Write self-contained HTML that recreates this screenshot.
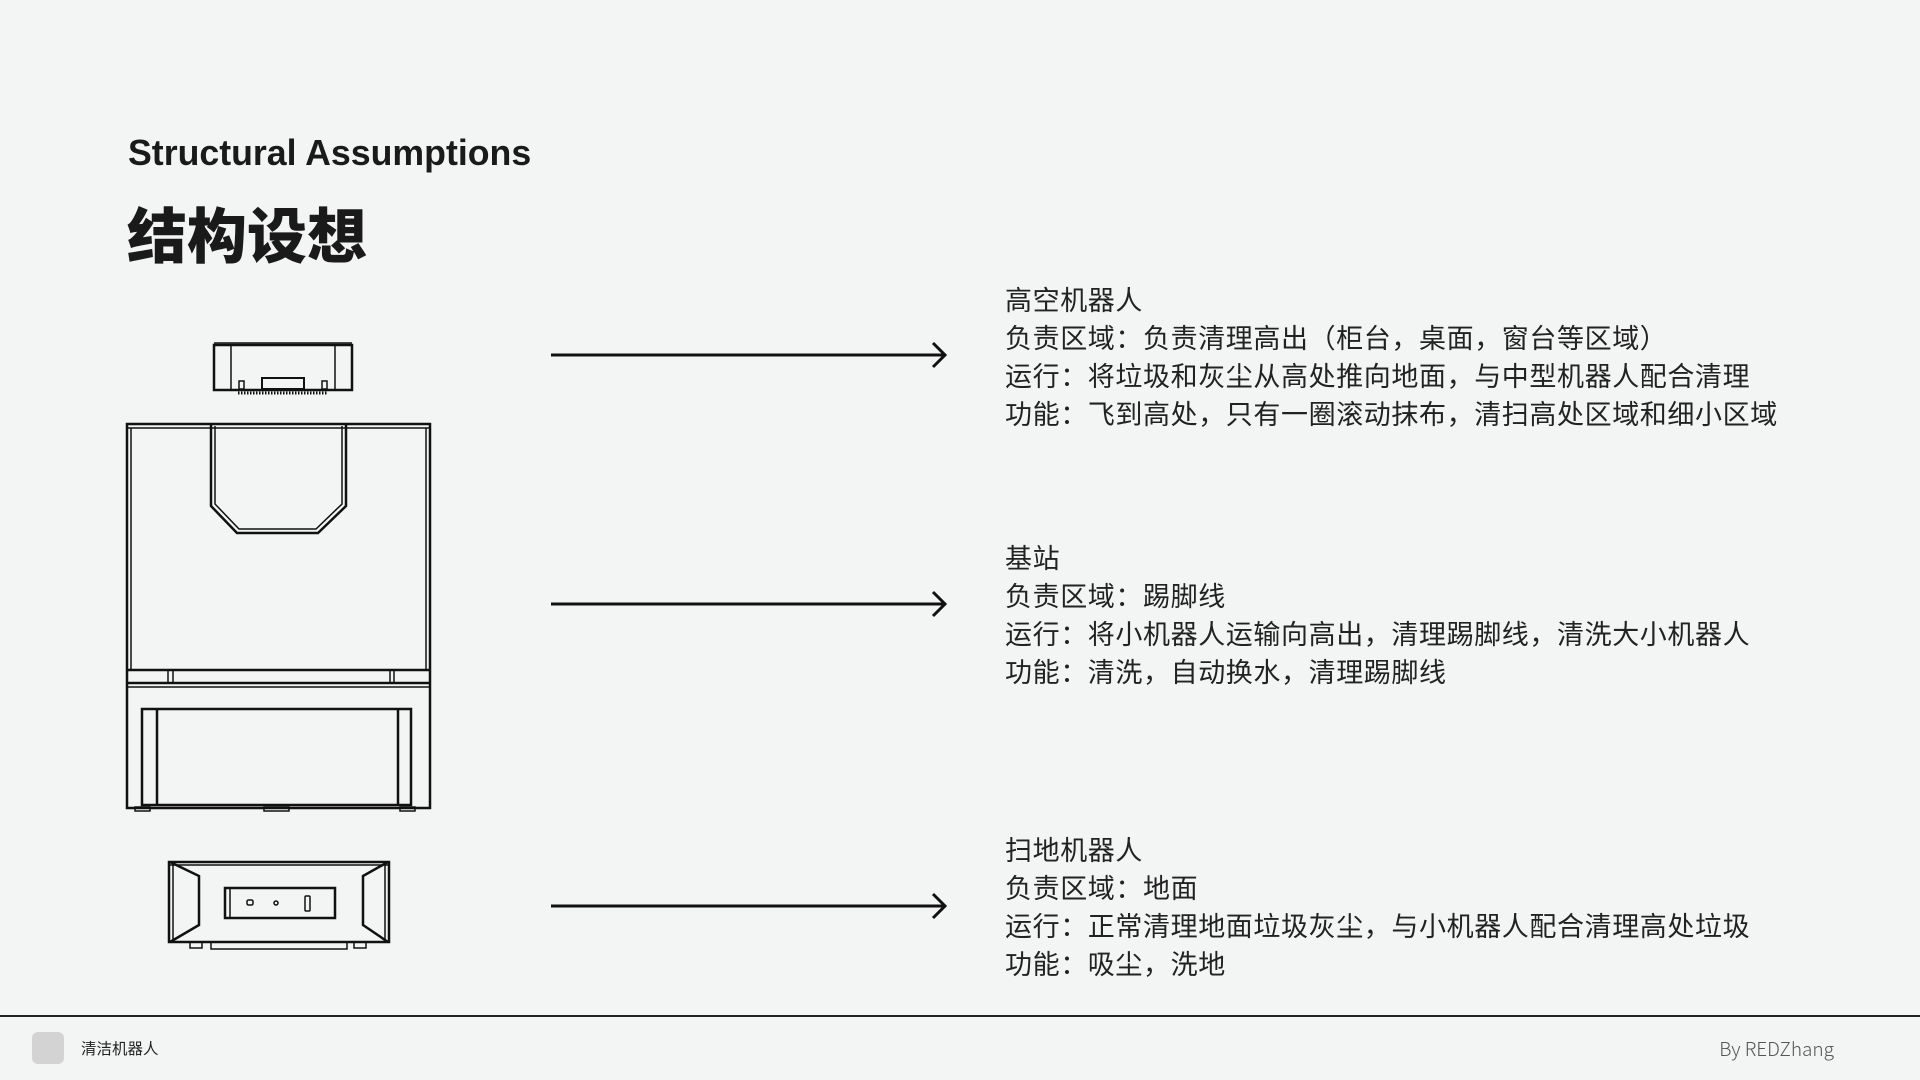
<!DOCTYPE html>
<html><head><meta charset="utf-8"><style>
html,body{margin:0;padding:0;}
body{width:1920px;height:1080px;background:#f3f5f4;position:relative;overflow:hidden;font-family:"Liberation Sans","Noto Sans CJK SC",sans-serif;color:#1a1a1a;}
.t1{position:absolute;left:128px;top:133px;font-size:35.7px;font-weight:bold;letter-spacing:0;line-height:40px;}
.t2{position:absolute;left:127px;top:198px;font-size:60px;font-weight:900;line-height:70px;font-family:"Noto Sans CJK SC",sans-serif;}
.blk{position:absolute;left:1005px;font-size:27px;line-height:38px;letter-spacing:0.6px;color:#222;font-family:"Noto Sans CJK SC",sans-serif;white-space:nowrap;}
.ft{position:absolute;font-family:"Noto Sans CJK SC",sans-serif;}
</style></head><body>
<div class="t1">Structural Assumptions</div>
<div class="t2">结构设想</div>

<svg width="1920" height="1080" style="position:absolute;left:0;top:0" fill="none" stroke="#111" stroke-width="2.5">
<rect x="214" y="345" width="138" height="45"/>
<line x1="214" y1="343" x2="352" y2="343" stroke-width="1.5"/>
<line x1="231" y1="345" x2="231" y2="390" stroke-width="1.5"/>
<line x1="335" y1="345" x2="335" y2="390" stroke-width="1.5"/>
<rect x="262" y="378" width="42" height="11" stroke-width="2"/>
<rect x="239" y="381" width="5" height="8" stroke-width="1.5"/>
<rect x="322" y="381" width="5" height="8" stroke-width="1.5"/>
<line x1="238" y1="393" x2="328" y2="393" stroke-width="3" stroke-dasharray="1.5 1.5"/>
<rect x="127" y="424" width="303" height="384"/>
<line x1="131" y1="428" x2="131" y2="670" stroke-width="1.5"/>
<line x1="426" y1="428" x2="426" y2="670" stroke-width="1.5"/>
<line x1="127" y1="428" x2="430" y2="428" stroke-width="1.5"/>
<path d="M211 425 V506 L237 533 H318 L346 506 V425"/>
<path d="M215 426 V504 L239 529 H316 L342 504 V426" stroke-width="1.5"/>
<line x1="127" y1="670" x2="430" y2="670"/>
<line x1="127" y1="683" x2="430" y2="683"/>
<line x1="127" y1="687" x2="430" y2="687" stroke-width="1.5"/>
<rect x="168" y="670" width="5" height="13" stroke-width="1.5"/>
<rect x="390" y="670" width="4" height="13" stroke-width="1.5"/>
<rect x="142" y="709" width="269" height="96"/>
<line x1="157" y1="709" x2="157" y2="805"/>
<line x1="398" y1="709" x2="398" y2="805"/>
<rect x="135" y="807" width="15" height="4" stroke-width="1.5"/>
<rect x="264" y="807" width="25" height="4" stroke-width="1.5"/>
<rect x="400" y="807" width="15" height="4" stroke-width="1.5"/>
<rect x="169" y="862" width="220" height="80"/>
<line x1="169" y1="865" x2="389" y2="865" stroke-width="1.5"/>
<path d="M170 862 L199 876 V925 L170 942"/>
<path d="M388 862 L363 876 V925 L388 942"/>
<line x1="173" y1="863" x2="173" y2="941" stroke-width="1.5"/>
<line x1="385" y1="863" x2="385" y2="941" stroke-width="1.5"/>
<rect x="225" y="888" width="110" height="30"/>
<line x1="230" y1="888" x2="230" y2="918" stroke-width="1.5"/>
<rect x="247" y="900" width="6" height="5" rx="1.5" stroke-width="1.5"/>
<circle cx="276" cy="903" r="2" stroke-width="1.5"/>
<rect x="305" y="896" width="5" height="15" rx="1" stroke-width="1.5"/>
<rect x="211" y="942" width="136" height="7" stroke-width="1.5"/>
<rect x="190" y="942" width="12" height="6" stroke-width="1.5"/>
<rect x="354" y="942" width="12" height="6" stroke-width="1.5"/>
<g stroke-width="3">
<line x1="551" y1="355" x2="945" y2="355"/><path d="M933 343 L945 355 L933 367"/>
<line x1="551" y1="604" x2="945" y2="604"/><path d="M933 592 L945 604 L933 616"/>
<line x1="551" y1="906" x2="945" y2="906"/><path d="M933 894 L945 906 L933 918"/>
</g>
<line x1="0" y1="1016" x2="1920" y2="1016" stroke="#222" stroke-width="2"/>
</svg>

<div class="blk" style="top:280px">高空机器人<br>负责区域：负责清理高出（柜台，桌面，窗台等区域）<br>运行：将垃圾和灰尘从高处推向地面，与中型机器人配合清理<br>功能：飞到高处，只有一圈滚动抹布，清扫高处区域和细小区域</div>
<div class="blk" style="top:538px">基站<br>负责区域：踢脚线<br>运行：将小机器人运输向高出，清理踢脚线，清洗大小机器人<br>功能：清洗，自动换水，清理踢脚线</div>
<div class="blk" style="top:830px">扫地机器人<br>负责区域：地面<br>运行：正常清理地面垃圾灰尘，与小机器人配合清理高处垃圾<br>功能：吸尘，洗地</div>

<div style="position:absolute;left:32px;top:1032px;width:32px;height:32px;border-radius:6px;background:#d3d3d3"></div>
<div class="ft" style="left:81px;top:1037px;font-size:15.5px;line-height:22px;color:#222">清洁机器人</div>
<div class="ft" style="right:86px;top:1037px;font-size:19px;line-height:24px;color:#555;font-family:'Noto Sans CJK SC',sans-serif;font-weight:300;">By REDZhang</div>
</body></html>
